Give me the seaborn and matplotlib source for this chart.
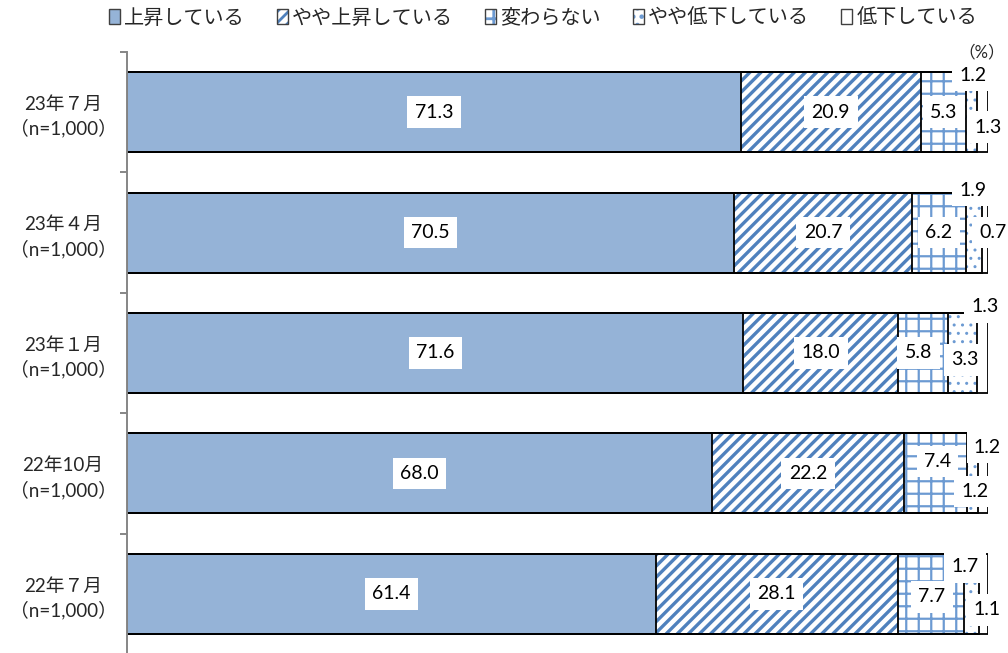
import numpy as np
import pandas as pd
import matplotlib
matplotlib.use("Agg")
import matplotlib.pyplot as plt
import matplotlib.hatch as mhatch
from matplotlib.patches import Patch
from matplotlib.legend_handler import HandlerTuple
import seaborn as sns

# ---- data -------------------------------------------------------------
periods = ["23年７月", "23年４月", "23年１月", "22年10月", "22年７月"]
sample_size = "（n=1,000）"
series_names = ["上昇している", "やや上昇している", "変わらない",
                "やや低下している", "低下している"]
rising = [71.3, 70.5, 71.6, 68.0, 61.4]
slightly_rising = [20.9, 20.7, 18.0, 22.2, 28.1]
unchanged = [5.3, 6.2, 5.8, 7.4, 7.7]
slightly_falling = [1.2, 1.9, 3.3, 1.2, 1.7]
falling = [1.3, 0.7, 1.3, 1.2, 1.1]
unit_label = "（%）"

# ---- styling ------------------------------------------------------------
BLUE_FILL = "#95B3D7"
styles = [
    dict(face=BLUE_FILL, hatch=None, lw=0.0, hc=None),
    dict(face="white", hatch="///", lw=2.4, hc="#4F81BD"),
    dict(face="white", hatch="+", lw=1.6, hc="#6C9AD2"),
    dict(face="white", hatch="..", lw=1.0, hc="#6C9AD2"),
    dict(face="white", hatch=None, lw=0.0, hc=None),
]
BAR_THICK = 0.665

# label nudges in pixels (dx right, dy down) for the narrow segments
label_shift = {
    (2, 0): (0, 0), (3, 0): (1, -37), (4, 0): (6, 15),
    (2, 1): (0, 0), (3, 1): (-1, -42), (4, 1): (8, 0),
    (2, 2): (-5, 0), (3, 2): (2, 7), (4, 2): (3, -46),
    (2, 3): (2, -12), (3, 3): (15, -26), (4, 3): (-8, 18),
    (2, 4): (1, 3), (3, 4): (-6, -27), (4, 4): (4, 16),
}


# a slightly finer grid for the "+" pattern
class _FinerHorizontal(mhatch.HorizontalHatch):
    def __init__(self, hatch, density):
        super().__init__(hatch, density)
        self.num_lines = int(round(self.num_lines * 4 / 3))
        self.num_vertices = self.num_lines * 2


class _FinerVertical(mhatch.VerticalHatch):
    def __init__(self, hatch, density):
        super().__init__(hatch, density)
        self.num_lines = int(round(self.num_lines * 4 / 3))
        self.num_vertices = self.num_lines * 2


mhatch._hatch_types = [
    _FinerHorizontal if t is mhatch.HorizontalHatch else
    _FinerVertical if t is mhatch.VerticalHatch else t
    for t in mhatch._hatch_types
]

sns.set_theme(style="white")
plt.rcParams["font.family"] = ["Lato", "Noto Sans CJK JP", "DejaVu Sans"]
plt.rcParams["hatch.linewidth"] = 2.0

row_labels = [f"{p}\n{sample_size}" for p in periods]
values = np.array([rising, slightly_rising, unchanged, slightly_falling, falling])
cum = np.cumsum(values, axis=0)

df = pd.DataFrame({"row": row_labels})
for k in range(len(series_names)):
    df[f"cum{k}"] = cum[k]

fig = plt.figure(figsize=(10.08, 6.53), dpi=100)
ax = fig.add_axes([127 / 1008, -1 / 653, 861 / 1008, 602 / 653])


def paint(container, st):
    for bar in container:
        bar.set_facecolor(st["face"])
        bar.set_hatch(st["hatch"])
        bar.set_edgecolor(st["hc"] if st["hatch"] else st["face"])
        bar.set_linewidth(0)
        if st["hatch"] and hasattr(bar, "set_hatch_linewidth"):
            bar.set_hatch_linewidth(st["lw"])


# stacked bars: draw cumulative totals from the longest to the shortest
for k in reversed(range(len(series_names))):
    with plt.rc_context({"hatch.linewidth": max(styles[k]["lw"], 0.5)}):
        sns.barplot(data=df, x=f"cum{k}", y="row", order=row_labels,
                    orient="h", width=BAR_THICK, color="white",
                    errorbar=None, ax=ax)
    paint(ax.containers[-1], styles[k])

# black segment outlines
for k in reversed(range(len(series_names))):
    sns.barplot(data=df, x=f"cum{k}", y="row", order=row_labels,
                orient="h", width=BAR_THICK, color="white",
                errorbar=None, ax=ax)
    for bar in ax.containers[-1]:
        bar.set_facecolor("none")
        bar.set_edgecolor("black")
        bar.set_linewidth(1.3)
        bar.set_zorder(1.5)

# value labels
for k in range(len(series_names)):
    for r in range(len(periods)):
        v = values[k, r]
        centre = cum[k, r] - v / 2
        dx, dy = label_shift.get((k, r), (0, 0))
        ax.annotate(f"{v:.1f}", xy=(centre, r), xytext=(dx, -dy),
                    textcoords="offset pixels", ha="center", va="center",
                    fontsize=14, color="black", zorder=6,
                    annotation_clip=False,
                    bbox=dict(boxstyle="square,pad=0.38", fc="white", ec="none"))

# axes cosmetics
ax.set_xlim(0, 100)
ax.set_ylim(len(periods) - 0.5, -0.5)
ax.set_xticks([])
ax.set_xlabel("")
ax.set_ylabel("")
for side in ("top", "right", "bottom"):
    ax.spines[side].set_visible(False)
ax.spines["left"].set_color("#868686")
ax.spines["left"].set_linewidth(1.4)
ax.spines["left"].set_zorder(3)
ax.set_yticks(np.arange(-0.5, len(periods), 1.0), minor=True)
ax.tick_params(axis="y", which="minor", length=5, width=1.4,
               color="#868686", direction="out", left=True)
ax.tick_params(axis="y", which="major", length=0, pad=46, labelsize=13.5)
for lab in ax.get_yticklabels():
    lab.set_horizontalalignment("center")
    lab.set_linespacing(1.4)
ax.set_facecolor("white")

fig.text(982 / 1008, 1 - 52 / 653, unit_label, ha="center", va="center",
         fontsize=12)

# legend
handles = []
for st in styles:
    inner = Patch(facecolor=st["face"], hatch=st["hatch"],
                  edgecolor=st["hc"] if st["hatch"] else st["face"],
                  linewidth=0)
    outer = Patch(facecolor="none", edgecolor="#404040", linewidth=1.0)
    handles.append((inner, outer))
fig.legend(handles, series_names,
           handler_map={tuple: HandlerTuple(ndivide=1, pad=0)},
           ncol=5, loc="center", bbox_to_anchor=(543 / 1008, 1 - 17 / 653),
           frameon=False, fontsize=14.5, handlelength=0.55,
           handleheight=0.75, handletextpad=0.2, columnspacing=1.6)

fig.savefig("out.png", dpi=100, facecolor="white")
